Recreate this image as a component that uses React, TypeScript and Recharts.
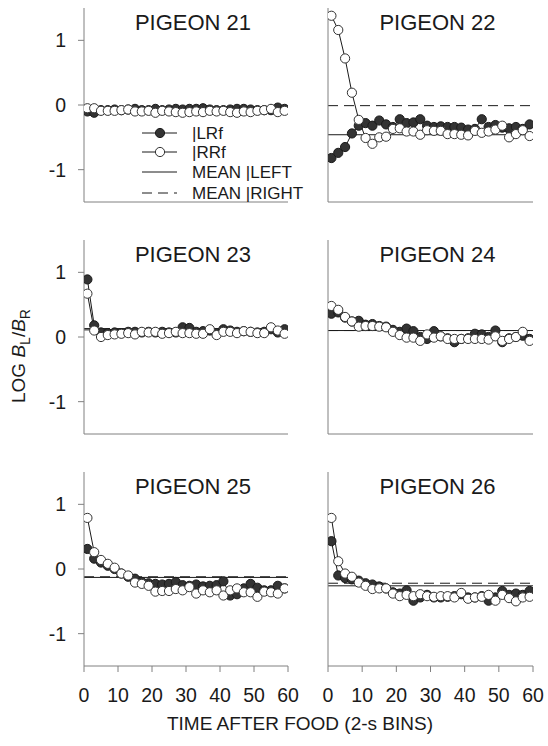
import React from 'react';
import { LineChart, Line, XAxis, YAxis, ReferenceLine } from 'recharts';

const BINS = [1, 3, 5, 7, 9, 11, 13, 15, 17, 19, 21, 23, 25, 27, 29, 31, 33, 35, 37, 39, 41, 43, 45, 47, 49, 51, 53, 55, 57, 59];
const PIGEONS = ['PIGEON 21', 'PIGEON 22', 'PIGEON 23', 'PIGEON 24', 'PIGEON 25', 'PIGEON 26'];
const X_TICKS = [0, 10, 20, 30, 40, 50, 60];
const Y_TICKS = [-1, 0, 1];
const LEGEND_LABELS = ['|LRf', '|RRf', 'MEAN |LEFT', 'MEAN |RIGHT'];

const P21_LRF = [-0.1, -0.12, -0.08, -0.08, -0.07, -0.08, -0.07, -0.06, -0.08, -0.08, -0.06, -0.08, -0.07, -0.06, -0.07, -0.06, -0.06, -0.05, -0.07, -0.08, -0.08, -0.07, -0.06, -0.06, -0.07, -0.08, -0.08, -0.08, -0.04, -0.06];
const P21_RRF = [-0.05, -0.05, -0.09, -0.09, -0.09, -0.08, -0.07, -0.1, -0.1, -0.09, -0.12, -0.09, -0.1, -0.11, -0.12, -0.11, -0.1, -0.11, -0.09, -0.1, -0.09, -0.11, -0.12, -0.1, -0.11, -0.09, -0.08, -0.06, -0.11, -0.09];
const P22_LRF = [-0.82, -0.74, -0.65, -0.44, -0.32, -0.28, -0.32, -0.24, -0.3, -0.34, -0.22, -0.28, -0.27, -0.22, -0.32, -0.34, -0.33, -0.34, -0.34, -0.35, -0.38, -0.37, -0.22, -0.34, -0.31, -0.35, -0.36, -0.34, -0.37, -0.3];
const P22_RRF = [1.38, 1.16, 0.72, 0.19, -0.23, -0.51, -0.6, -0.5, -0.49, -0.37, -0.36, -0.41, -0.41, -0.46, -0.39, -0.4, -0.4, -0.45, -0.45, -0.46, -0.47, -0.4, -0.43, -0.41, -0.38, -0.32, -0.5, -0.45, -0.39, -0.48];
const P23_LRF = [0.89, 0.18, 0.07, 0.06, 0.07, 0.06, 0.08, 0.08, 0.07, 0.08, 0.07, 0.08, 0.07, 0.07, 0.15, 0.14, 0.08, 0.09, 0.1, 0.06, 0.12, 0.1, 0.08, 0.09, 0.08, 0.07, 0.08, 0.12, 0.07, 0.12];
const P23_RRF = [0.67, 0.1, 0.0, 0.03, 0.04, 0.05, 0.06, 0.04, 0.08, 0.07, 0.08, 0.05, 0.06, 0.08, 0.06, 0.06, 0.05, 0.05, 0.12, 0.03, 0.08, 0.08, 0.06, 0.09, 0.08, 0.06, 0.06, 0.15, 0.1, 0.05];
const P24_LRF = [0.36, 0.38, 0.3, 0.24, 0.25, 0.19, 0.2, 0.17, 0.16, 0.11, 0.08, 0.13, 0.09, 0.0, -0.03, 0.09, 0.01, -0.02, -0.08, -0.03, -0.02, 0.05, 0.04, 0.0, 0.1, -0.08, -0.02, 0.0, 0.02, -0.03];
const P24_RRF = [0.48, 0.42, 0.31, 0.24, 0.16, 0.17, 0.17, 0.16, 0.15, 0.08, 0.03, -0.01, -0.01, -0.06, 0.04, -0.01, 0.01, -0.03, -0.03, -0.03, -0.03, -0.03, -0.03, -0.04, 0.01, -0.06, -0.03, 0.0, 0.08, -0.06];
const P25_LRF = [0.31, 0.16, 0.1, 0.05, 0.0, -0.07, -0.12, -0.15, -0.2, -0.22, -0.23, -0.24, -0.23, -0.2, -0.25, -0.26, -0.24, -0.27, -0.26, -0.25, -0.19, -0.41, -0.39, -0.3, -0.23, -0.29, -0.33, -0.33, -0.26, -0.3];
const P25_RRF = [0.79, 0.26, 0.14, 0.08, 0.02, -0.07, -0.1, -0.21, -0.23, -0.26, -0.35, -0.34, -0.34, -0.31, -0.33, -0.28, -0.38, -0.33, -0.36, -0.33, -0.41, -0.33, -0.3, -0.36, -0.36, -0.43, -0.35, -0.36, -0.38, -0.3];
const P26_LRF = [0.43, -0.1, -0.14, -0.16, -0.18, -0.22, -0.24, -0.27, -0.3, -0.36, -0.38, -0.33, -0.49, -0.44, -0.4, -0.44, -0.44, -0.43, -0.42, -0.39, -0.44, -0.44, -0.42, -0.49, -0.44, -0.34, -0.4, -0.38, -0.4, -0.34];
const P26_RRF = [0.79, 0.12, -0.07, -0.12, -0.21, -0.26, -0.31, -0.3, -0.3, -0.38, -0.42, -0.4, -0.42, -0.39, -0.42, -0.43, -0.42, -0.42, -0.44, -0.37, -0.46, -0.44, -0.43, -0.4, -0.49, -0.4, -0.45, -0.5, -0.44, -0.43];

const MEAN_LEFT = [-0.07, -0.46, 0.11, 0.1, -0.13, -0.26];
const MEAN_RIGHT = [-0.07, -0.01, 0.13, 0.1, -0.12, -0.22];

const LRF = [P21_LRF, P22_LRF, P23_LRF, P24_LRF, P25_LRF, P26_LRF];
const RRF = [P21_RRF, P22_RRF, P23_RRF, P24_RRF, P25_RRF, P26_RRF];

const FONT = '"Liberation Sans", Arial, sans-serif';
const AXIS_GRAY = '#808080';
const INK = '#1a1a1a';

const ROW_TOPS = [8, 240, 472];
const PLOT_H = 194;
const LEFT_COL = { left: 0, width: 300, marginLeft: 44, marginRight: 12, plotL: 84, plotR: 288 };
const RIGHT_COL = { left: 288, width: 260, marginLeft: 0, marginRight: 15, plotL: 328, plotR: 533 };

function Panel({ idx }: { idx: number }) {
  const row = Math.floor(idx / 2);
  const col = idx % 2 === 0 ? LEFT_COL : RIGHT_COL;
  const isBottom = row === 2;
  const isLeft = idx % 2 === 0;
  const data = BINS.map((b, i) => ({ x: b, lrf: LRF[idx][i], rrf: RRF[idx][i] }));
  const top = ROW_TOPS[row] - 8;
  const height = 8 + PLOT_H + 40;
  return (
    <div style={{ position: 'absolute', left: col.left, top, width: col.width, height }}>
      <LineChart
        width={col.width}
        height={height}
        data={data}
        margin={{ top: 8, right: col.marginRight, left: col.marginLeft, bottom: 0 }}
      >
        <XAxis
          dataKey="x"
          type="number"
          domain={[0, 60]}
          ticks={X_TICKS}
          height={40}
          stroke={AXIS_GRAY}
          tickSize={6}
          tickMargin={16}
          tick={isBottom ? { fill: INK, fontSize: 19.5, fontFamily: FONT } : false}
          axisLine={{ stroke: AXIS_GRAY }}
          tickLine={{ stroke: AXIS_GRAY }}
          allowDataOverflow
        />
        <YAxis
          type="number"
          domain={[-1.5, 1.5]}
          ticks={Y_TICKS}
          width={40}
          stroke={AXIS_GRAY}
          tickSize={6}
          tickMargin={12}
          tick={isLeft ? { fill: INK, fontSize: 19.5, fontFamily: FONT } : false}
          axisLine={{ stroke: AXIS_GRAY }}
          tickLine={{ stroke: AXIS_GRAY }}
          allowDataOverflow
        />
        <ReferenceLine y={MEAN_LEFT[idx]} stroke={INK} strokeWidth={1} />
        <ReferenceLine y={MEAN_RIGHT[idx]} stroke={INK} strokeWidth={1} strokeDasharray="10 6" />
        <Line
          dataKey="lrf"
          stroke={INK}
          strokeWidth={1}
          isAnimationActive={false}
          dot={{ r: 4.6, fill: '#333', stroke: '#1a1a1a', strokeWidth: 1 }}
        />
        <Line
          dataKey="rrf"
          stroke={INK}
          strokeWidth={1}
          isAnimationActive={false}
          dot={{ r: 4.6, fill: '#fff', stroke: '#333', strokeWidth: 1 }}
        />
      </LineChart>
    </div>
  );
}

function Legend() {
  const rowYs = [133, 152, 172, 193];
  return (
    <svg width={548} height={746} style={{ position: 'absolute', left: 0, top: 0, pointerEvents: 'none' }}>
      {LEGEND_LABELS.map((label, i) => {
        const y = rowYs[i];
        return (
          <g key={label}>
            {i === 3 ? (
              <line x1={142} x2={177} y1={y} y2={y} stroke={INK} strokeWidth={1} strokeDasharray="10 6" />
            ) : (
              <line x1={142} x2={177} y1={y} y2={y} stroke={INK} strokeWidth={1} />
            )}
            {i === 0 && <circle cx={160} cy={y} r={4.6} fill="#333" stroke="#1a1a1a" />}
            {i === 1 && <circle cx={160} cy={y} r={4.6} fill="#fff" stroke="#333" />}
            <text x={192} y={y + 6} fontSize={17} fontFamily={FONT} fill={INK}>{label}</text>
          </g>
        );
      })}
    </svg>
  );
}

function Texts() {
  const titles = PIGEONS.map((p, idx) => {
    const row = Math.floor(idx / 2);
    const col = idx % 2 === 0 ? LEFT_COL : RIGHT_COL;
    const cx = (col.plotL + col.plotR) / 2 + 7;
    return (
      <text key={p} x={cx} y={ROW_TOPS[row] + 22} textAnchor="middle" fontSize={22} fontFamily={FONT} fill={INK}>
        {p}
      </text>
    );
  });
  return (
    <svg width={548} height={746} style={{ position: 'absolute', left: 0, top: 0, pointerEvents: 'none' }}>
      {titles}
      <text x={300} y={730} textAnchor="middle" fontSize={19} fontFamily={FONT} fill={INK}>
        TIME AFTER FOOD (2-s BINS)
      </text>
      <text
        transform="translate(25, 356) rotate(-90)"
        textAnchor="middle"
        fontSize={19}
        fontFamily={FONT}
        fill={INK}
      >
        LOG <tspan fontStyle="italic">B</tspan>
        <tspan fontSize={14} dy={5}>L</tspan>
        <tspan dy={-5}>/</tspan>
        <tspan fontStyle="italic">B</tspan>
        <tspan fontSize={14} dy={5}>R</tspan>
      </text>
    </svg>
  );
}

export default function App() {
  return (
    <div style={{ position: 'absolute', left: 0, top: 0, width: 548, height: 746, background: '#fff', fontFamily: FONT }}>
      {[0, 1, 2, 3, 4, 5].map((i) => (
        <Panel key={i} idx={i} />
      ))}
      <Legend />
      <Texts />
    </div>
  );
}
